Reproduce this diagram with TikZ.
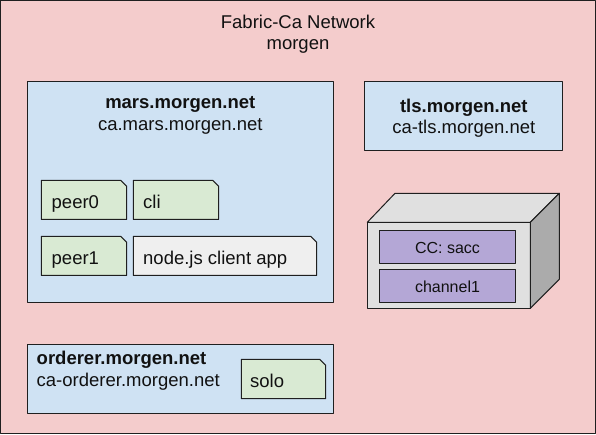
\documentclass[tikz,border=0pt]{standalone}
\usepackage{fontspec}
\setmainfont{Liberation Sans}
\definecolor{pinkbg}{HTML}{F4CCCC}
\definecolor{bluebox}{HTML}{CFE2F3}
\definecolor{greenbox}{HTML}{D9EAD3}
\definecolor{greybox}{HTML}{EFEFEF}
\definecolor{purplebox}{HTML}{B4A7D6}
\definecolor{cubeface}{HTML}{E0E0E0}
\definecolor{cubeside}{HTML}{ABABAB}
\definecolor{inkline}{HTML}{1F1F1F}
\definecolor{inktext}{HTML}{111111}
\tikzset{
  outline/.style={draw=inkline,line width=1pt,line join=round},
  txt/.style={inner sep=0pt,text=inktext,font=\fontsize{18.5}{20}\selectfont,anchor=base},
  txtl/.style={txt,anchor=base west},
  boldtxt/.style={font=\fontsize{18.5}{20}\selectfont\bfseries},
  small/.style={txt,font=\fontsize{16}{18}\selectfont},
}
\newcommand{\notebox}[6]{% x0 y0 x1 y1 colour name
  \path[outline,fill=#5] (#1,#2) -- ({#3-6},#2) -- (#3,{#2+6}) -- (#3,#4) -- (#1,#4) -- cycle;
  \coordinate (#6) at (#1,#2);
}
\begin{document}
\begin{tikzpicture}[x=1pt,y=-1pt]
\useasboundingbox (0,0) rectangle (596,434);
\path[outline,fill=pinkbg] (0.5,0.5) rectangle (595.5,433);
\node[txt] (title1) at (298,28) {Fabric-Ca Network};
\node[txt] (title2) at (298,49.5) {morgen};
% mars
\path[outline,fill=bluebox] (27.3,81.8) rectangle (333.5,302.3);
\node[txt,boldtxt] (marsname) at (180.3,108.5) {mars.morgen.net};
\node[txt] (marsca) at (180.3,130) {ca.mars.morgen.net};
\notebox{41.3}{180.3}{126.7}{219.3}{greenbox}{p0}
\node[txtl] (peer0) at (51.5,208) {peer0};
\notebox{133.3}{180.3}{218.7}{219.3}{greenbox}{c0}
\node[txtl] (cli) at (143,208) {cli};
\notebox{41.3}{236.3}{126.7}{275.3}{greenbox}{p1}
\node[txtl] (peer1) at (51.5,264) {peer1};
\notebox{133.3}{236.3}{316.7}{275.3}{greybox}{n0}
\node[txtl] (nodeapp) at (143,264) {node.js client app};
% orderer
\path[outline,fill=bluebox] (27.3,344.3) rectangle (333.5,413.3);
\node[txtl,boldtxt] (ordname) at (36.5,364) {orderer.morgen.net};
\node[txtl] (ordca) at (36.5,386) {ca-orderer.morgen.net};
\notebox{241.3}{359.3}{325.7}{398.7}{greenbox}{s0}
\node[txtl] (solo) at (250,387) {solo};
% tls
\path[outline,fill=bluebox] (364.8,81.8) rectangle (562.8,150.3);
\node[txt,boldtxt] (tlsname) at (463.8,112) {tls.morgen.net};
\node[txt] (tlsca) at (463.8,133.5) {ca-tls.morgen.net};
% cube
\path[outline,fill=cubeface] (367.3,222.3) rectangle (530.3,308.3);
\path[outline,fill=cubeface] (367.3,222.3) -- (395,193.3) -- (559.3,193.3) -- (530.3,222.3) -- cycle;
\path[outline,fill=cubeside] (530.3,222.3) -- (559.3,193.3) -- (559.3,279.3) -- (530.3,308.3) -- cycle;
\path[outline,fill=purplebox] (379.3,230.3) rectangle (515.7,263.3);
\node[small] (cc) at (447.5,253.3) {CC: sacc};
\path[outline,fill=purplebox] (379.3,269.3) rectangle (515.7,302.3);
\node[small] (channel) at (447.5,292.3) {channel1};
\end{tikzpicture}
\end{document}
